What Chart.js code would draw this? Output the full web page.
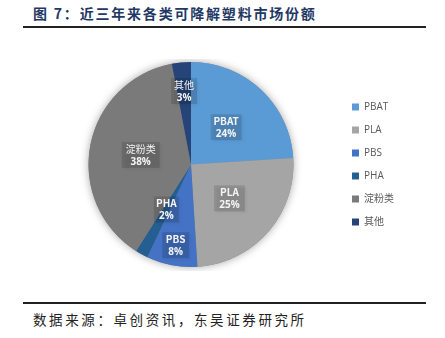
<!DOCTYPE html>
<html>
<head>
<meta charset="utf-8">
<script src="https://cdn.jsdelivr.net/npm/chart.js@4.4.0/dist/chart.umd.min.js"></script>
<style>
  html, body { margin: 0; padding: 0; background: #fff; }
  body { width: 445px; height: 338px; position: relative; overflow: hidden; font-family: "Noto Sans CJK SC", sans-serif; }
  #title { position: absolute; left: 33px; top: 3px; font-size: 14px; font-weight: bold; color: #1f3864; letter-spacing: 1.8px; white-space: nowrap; }
  .rule { position: absolute; left: 23px; width: 403px; height: 2px; background: #222; }
  #source { position: absolute; left: 33px; top: 309px; font-size: 13.5px; color: #222; letter-spacing: 2.6px; white-space: nowrap; }
  #wrap { position: absolute; left: 0; top: 59px; width: 445px; height: 212px; }
</style>
</head>
<body>
<div id="title">图 7：近三年来各类可降解塑料市场份额</div>
<div class="rule" style="top:26px"></div>
<div id="wrap"><canvas id="c"></canvas></div>
<div class="rule" style="top:302px"></div>
<div id="source">数据来源：卓创资讯，东吴证券研究所</div>
<script>
const categories = ['PBAT', 'PLA', 'PBS', 'PHA', '淀粉类', '其他'];
const shares = [24, 25, 8, 2, 38, 3];
const percentLabels = ['24%', '25%', '8%', '2%', '38%', '3%'];

const colors = ['#5b9bd5', '#a5a5a5', '#4472c4', '#255e91', '#7a7a7a', '#264478'];
const labelRadius = [0.5, 0.5, 0.8, 0.5, 0.5, 0.72];
const labelBoxW = [31, 31, 27, 25, 38, 26];

const pieShadow = {
  id: 'pieShadow',
  beforeDatasetsDraw(chart) {
    const arc = chart.getDatasetMeta(0).data[0];
    if (!arc) return;
    const ctx = chart.ctx;
    ctx.save();
    ctx.shadowColor = 'rgba(0,0,0,0.35)';
    ctx.shadowBlur = 9;
    ctx.fillStyle = '#888';
    ctx.beginPath();
    ctx.arc(arc.x, arc.y, arc.outerRadius, 0, Math.PI * 2);
    ctx.fill();
    ctx.restore();
  }
};

const sliceLabels = {
  id: 'sliceLabels',
  afterDatasetsDraw(chart) {
    const ctx = chart.ctx;
    const meta = chart.getDatasetMeta(0);
    meta.data.forEach((arc, i) => {
      const p = arc.getProps(['x', 'y', 'startAngle', 'endAngle', 'outerRadius'], true);
      const mid = (p.startAngle + p.endAngle) / 2;
      const r = p.outerRadius * labelRadius[i];
      const cx = p.x + Math.cos(mid) * r;
      const cy = p.y + Math.sin(mid) * r;
      const w = labelBoxW[i], h = 26;
      ctx.save();
      ctx.shadowColor = 'rgba(0,0,0,0.45)';
      ctx.shadowBlur = 3;
      ctx.shadowOffsetX = 2;
      ctx.shadowOffsetY = 2;
      ctx.fillStyle = 'rgba(0,0,0,0.12)';
      ctx.fillRect(cx - w / 2, cy - h / 2, w, h);
      ctx.restore();
      ctx.save();
      ctx.fillStyle = '#f4f4f4';
      ctx.textAlign = 'center';
      ctx.textBaseline = 'middle';
      const isCJK = /[\u4e00-\u9fff]/.test(categories[i]);
      ctx.font = (isCJK ? 'normal ' : 'bold ') + '10px "Noto Sans CJK SC", "Open Sans", sans-serif';
      ctx.fillText(categories[i], cx, cy - 6);
      ctx.font = 'bold 10px "Open Sans", sans-serif';
      ctx.fillText(percentLabels[i], cx, cy + 7);
      ctx.restore();
    });
  }
};

new Chart(document.getElementById('c'), {
  type: 'pie',
  data: {
    labels: categories,
    datasets: [{
      data: shares,
      backgroundColor: colors,
      borderWidth: 0
    }]
  },
  options: {
    responsive: true,
    maintainAspectRatio: false,
    animation: false,
    layout: { padding: { left: 43, right: 41, top: 3, bottom: 4 } },
    plugins: {
      tooltip: { enabled: false },
      legend: {
        position: 'right',
        labels: {
          boxWidth: 7,
          boxHeight: 7,
          padding: 13,
          color: '#595959',
          font: { size: 10, family: '"Open Sans", "Noto Sans CJK SC", sans-serif' }
        }
      }
    }
  },
  plugins: [pieShadow, sliceLabels]
});
</script>
</body>
</html>
